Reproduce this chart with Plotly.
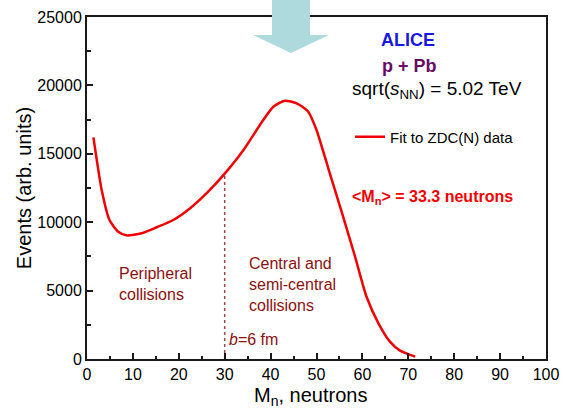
import plotly.graph_objects as go

# ---- data ----
mn = [1.4, 3.2, 4.9, 6.8, 8.6, 11.9, 15.2, 18.8, 22.4, 26.4, 30.0, 34.1, 38.4, 40.6,
      43.1, 45.7, 48.2, 50.0, 52.9, 55.8, 58.4, 60.9, 63.5, 66.0, 68.2, 71.5]
events = [16200, 12350, 10160, 9300, 9040, 9190, 9630, 10160, 11000, 12230, 13550,
          15280, 17470, 18440, 18880, 18690, 18080, 16740, 13570, 10400, 7480, 4550,
          2610, 1270, 610, 170]
cut_x = [30, 30]
cut_y = [0, 13550]
x_ticks = [0, 10, 20, 30, 40, 50, 60, 70, 80, 90, 100]
x_labels = ["0", "10", "20", "30", "40", "50", "60", "70", "80", "90", "100"]
y_ticks = [0, 5000, 10000, 15000, 20000, 25000]
y_labels = ["0", "5000", "10000", "15000", "20000", "25000"]

W, H = 562, 409
ML, MR, MT, MB = 87, 16, 17, 50
FONT = "Arial, Liberation Sans, sans-serif"
DARKRED = "#8B1010"


def px_to_paper(px, py):
    return ((px - ML) / (W - ML - MR), ((H - MB) - py) / (H - MT - MB))


fig = go.Figure()
fig.add_trace(go.Scatter(x=cut_x, y=cut_y, mode="lines", showlegend=False,
                         line=dict(color="#9B4848", width=1.5, dash="3px,3px")))
fig.add_trace(go.Scatter(x=mn, y=events, mode="lines", name="Fit to ZDC(N) data",
                         line=dict(color="#F00000", width=2.5, shape="spline", smoothing=0.6)))

# arrow (decoration) in paper coords
pts = [(272, -5), (272, 35), (253, 35), (291, 53), (329, 35), (310, 35), (310, -5)]
pp = [px_to_paper(a, b) for a, b in pts]
path = "M " + " L ".join(f"{a:.4f},{b:.4f}" for a, b in pp) + " Z"
fig.add_shape(type="path", path=path, xref="paper", yref="paper",
              fillcolor="#AED9DD", line=dict(width=0), layer="above")

ann = [
    dict(x=69.9, y=23320, text="<b>ALICE</b>", font=dict(size=18, color="#1818E0"), xanchor="center"),
    dict(x=70.2, y=21420, text="<b>p + Pb</b>", font=dict(size=18, color="#660A66"), xanchor="center"),
    dict(x=57.3, y=19660, text="sqrt(<i>s</i><sub>NN</sub>) = 5.02 TeV",
         font=dict(size=19, color="black"), xanchor="left"),
    dict(x=57.3, y=11770, text="<b>&lt;M<sub>n</sub>&gt; = 33.3 neutrons</b>",
         font=dict(size=16, color="#F00000"), xanchor="left"),
    dict(x=6.5, y=5480, text="Peripheral<br>collisions", font=dict(size=16, color=DARKRED),
         xanchor="left", align="left"),
    dict(x=34.8, y=5480, text="Central and<br>semi-central<br>collisions",
         font=dict(size=16, color=DARKRED), xanchor="left", align="left"),
    dict(x=30.4, y=1390, text="<i>b</i>=6 fm", font=dict(size=16, color=DARKRED), xanchor="left"),
]
for a in ann:
    fig.add_annotation(xref="x", yref="y", showarrow=False, yanchor="middle", **a)

# x-axis title as paper annotation
tx, ty = px_to_paper(310.5, 396)
fig.add_annotation(xref="paper", yref="paper", x=tx, y=ty, showarrow=False,
                   xanchor="center", yanchor="middle", text="M<sub>n</sub>, neutrons",
                   font=dict(size=20, color="black", family=FONT))

axis_common = dict(showgrid=False, zeroline=False, showline=True, linecolor="#1a1a1a",
                   linewidth=2, mirror=True, ticks="inside", ticklen=6, tickwidth=1.5,
                   tickcolor="#1a1a1a", automargin=False,
                   tickfont=dict(size=16, color="black", family=FONT))
fig.update_xaxes(range=[0, 100], tickvals=x_ticks, ticktext=x_labels, **axis_common,
                 minor=dict(dtick=5, ticks="inside", ticklen=3, tickwidth=1.5, tickcolor="#1a1a1a"))
fig.update_yaxes(range=[0, 25000], tickvals=y_ticks, ticktext=y_labels, **axis_common,
                 minor=dict(dtick=2500, ticks="inside", ticklen=4, tickwidth=1.5, tickcolor="#1a1a1a"),
                 title=dict(text="Events (arb. units)", font=dict(size=20, color="black", family=FONT),
                            standoff=0))

lx, ly = px_to_paper(350, 137)
fig.update_layout(
    width=W, height=H, margin=dict(l=ML, r=MR, t=MT, b=MB),
    paper_bgcolor="white", plot_bgcolor="white",
    font=dict(family=FONT),
    legend=dict(x=lx, y=ly, xanchor="left", yanchor="middle", bgcolor="rgba(0,0,0,0)",
                font=dict(size=15, color="black", family=FONT)),
)

fig.write_html("out.html", config={"displayModeBar": False},
               post_script="document.body.style.margin='0';document.body.style.padding='0';")
